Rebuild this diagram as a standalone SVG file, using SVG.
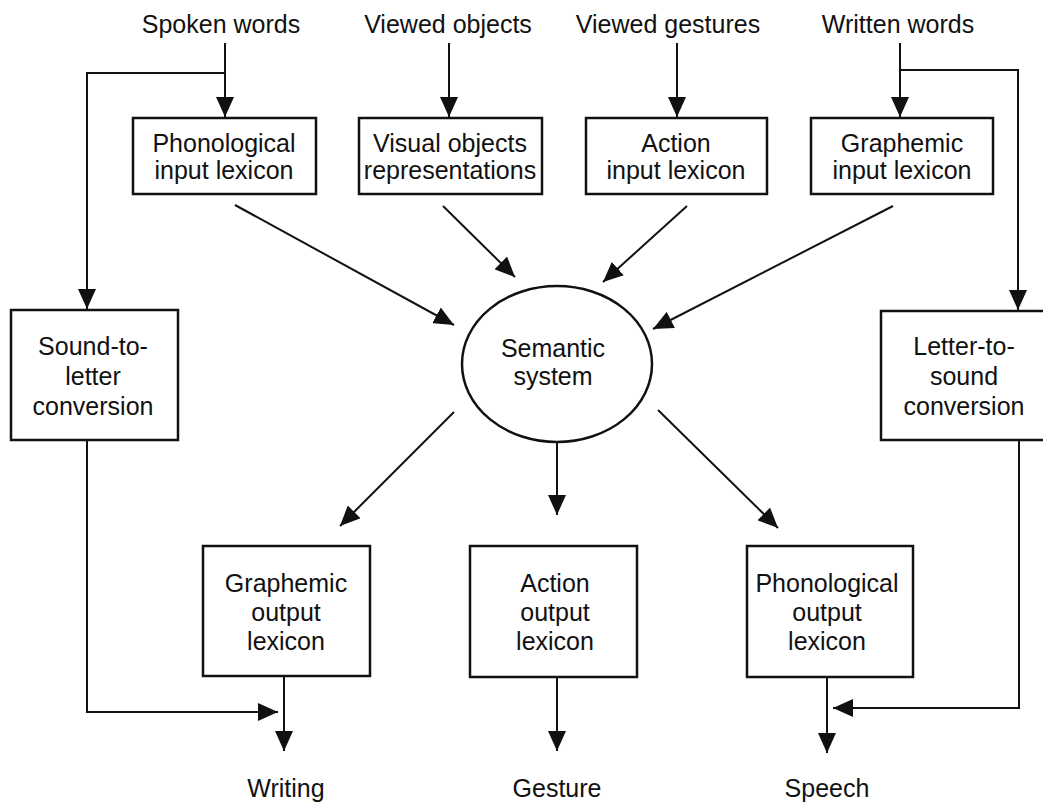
<svg xmlns="http://www.w3.org/2000/svg" width="1043" height="803" viewBox="0 0 1043 803">
<style>
text { font-family: "Liberation Sans", Arial, sans-serif; font-size: 25px; fill: #111; text-anchor: middle; }
.box { fill: none; stroke: #111; stroke-width: 2.5; }
.ln { fill: none; stroke: #111; stroke-width: 2; }
.arr { marker-end: url(#ah); }
</style>
<defs>
<marker id="ah" markerUnits="userSpaceOnUse" viewBox="0 0 20 18" markerWidth="20" markerHeight="18" refX="20" refY="9" orient="auto">
<path d="M0,0 L20,9 L0,18 z" fill="#111"/>
</marker>
</defs>
<rect width="1043" height="803" fill="#fff"/>

<g id="labels-in">
<text x="221" y="33">Spoken words</text>
<text x="448" y="33">Viewed objects</text>
<text x="668" y="33">Viewed gestures</text>
<text x="898" y="33">Written words</text>
</g>

<g id="phon-in">
<rect class="box" x="133" y="118" width="183" height="76"/>
<text x="224" y="152">Phonological</text>
<text x="224" y="179">input lexicon</text>
</g>
<g id="visual-obj">
<rect class="box" x="359" y="118" width="183" height="76"/>
<text x="450" y="152">Visual objects</text>
<text x="450" y="179">representations</text>
</g>
<g id="action-in">
<rect class="box" x="586" y="118" width="181" height="76"/>
<text x="676" y="152">Action</text>
<text x="676" y="179">input lexicon</text>
</g>
<g id="graph-in">
<rect class="box" x="811" y="118" width="182" height="76"/>
<text x="902" y="152">Graphemic</text>
<text x="902" y="179">input lexicon</text>
</g>

<g id="sound-to-letter">
<rect class="box" x="11" y="310" width="167" height="130"/>
<text x="93" y="355">Sound-to-</text>
<text x="93" y="385">letter</text>
<text x="93" y="415">conversion</text>
</g>
<g id="letter-to-sound">
<rect class="box" x="881" y="311" width="168" height="129"/>
<text x="964" y="355">Letter-to-</text>
<text x="964" y="385">sound</text>
<text x="964" y="415">conversion</text>
</g>

<g id="semantic">
<ellipse class="box" cx="557" cy="364" rx="95" ry="78"/>
<text x="553" y="357">Semantic</text>
<text x="553" y="385">system</text>
</g>

<g id="graph-out">
<rect class="box" x="203" y="546" width="167" height="130"/>
<text x="286" y="592">Graphemic</text>
<text x="286" y="621">output</text>
<text x="286" y="650">lexicon</text>
</g>
<g id="action-out">
<rect class="box" x="470" y="546" width="167" height="131"/>
<text x="555" y="592">Action</text>
<text x="555" y="621">output</text>
<text x="555" y="650">lexicon</text>
</g>
<g id="phon-out">
<rect class="box" x="747" y="546" width="166" height="131"/>
<text x="827" y="592">Phonological</text>
<text x="827" y="621">output</text>
<text x="827" y="650">lexicon</text>
</g>

<g id="labels-out">
<text x="286" y="797">Writing</text>
<text x="557" y="797">Gesture</text>
<text x="827" y="797">Speech</text>
</g>

<g id="connectors">
<line class="ln arr" x1="225" y1="43" x2="225" y2="117"/>
<polyline class="ln arr" points="225,73 87,73 87,309"/>
<line class="ln arr" x1="449" y1="43" x2="449" y2="117"/>
<line class="ln arr" x1="677" y1="43" x2="677" y2="117"/>
<line class="ln arr" x1="900" y1="43" x2="900" y2="117"/>
<polyline class="ln arr" points="900,70 1018,70 1018,310"/>

<line class="ln arr" x1="235" y1="205" x2="454" y2="325"/>
<line class="ln arr" x1="443" y1="206" x2="515" y2="277"/>
<line class="ln arr" x1="687" y1="206" x2="603" y2="282"/>
<line class="ln arr" x1="893" y1="206" x2="653" y2="329"/>

<line class="ln arr" x1="454" y1="412" x2="340" y2="526"/>
<line class="ln arr" x1="557" y1="442" x2="557" y2="515"/>
<line class="ln arr" x1="658" y1="410" x2="778" y2="528"/>

<polyline class="ln arr" points="87,440 87,712 278,712"/>
<line class="ln arr" x1="284" y1="676" x2="284" y2="751"/>
<line class="ln arr" x1="557" y1="677" x2="557" y2="751"/>
<line class="ln arr" x1="827" y1="677" x2="827" y2="753"/>
<polyline class="ln arr" points="1019,440 1019,708 833,708"/>
</g>
</svg>
